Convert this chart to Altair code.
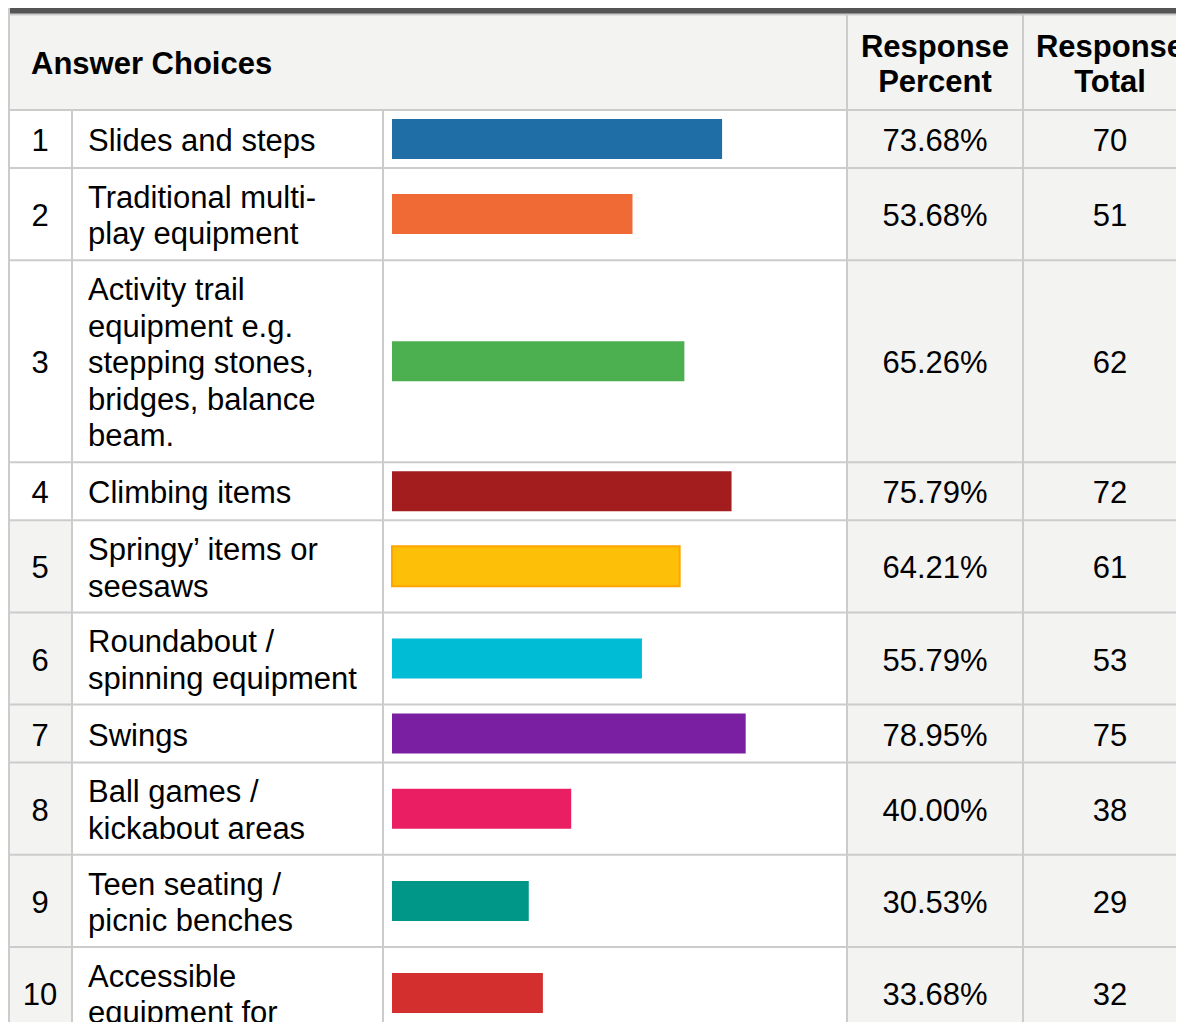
import altair as alt
import pandas as pd

# ---------------- data ----------------
labels = [
    "Slides and steps",
    "Traditional multi-\nplay equipment",
    "Activity trail\nequipment e.g.\nstepping stones,\nbridges, balance\nbeam.",
    "Climbing items",
    "Springy’ items or\nseesaws",
    "Roundabout /\nspinning equipment",
    "Swings",
    "Ball games /\nkickabout areas",
    "Teen seating /\npicnic benches",
    "Accessible\nequipment for",
]
percents = [73.68, 53.68, 65.26, 75.79, 64.21, 55.79, 78.95, 40.00, 30.53, 33.68]
totals = [70, 51, 62, 72, 61, 53, 75, 38, 29, 32]
bar_colors = ["#1f6fa6", "#f06a35", "#4caf50", "#a31d1f", "#fdbf07",
              "#00bcd4", "#7b1fa2", "#e91e63", "#009688", "#d32f2f"]
bar_strokes = ["#1f6fa6", "#f06a35", "#4caf50", "#a31d1f", "#ffa500",
               "#00bcd4", "#7b1fa2", "#e91e63", "#009688", "#d32f2f"]
header_choices = "Answer Choices"
header_percent = "Response\nPercent"
header_total = "Response\nTotal"

# ---------------- layout ----------------
W, H = 1168, 1014          # chart size (page margin 8px)
M = 8
FONT = "Liberation Sans"
FS = 31
LH = 36.6
HLH = 35
GRID = "#cccccc"
SHADE = "#f3f3f2"
DARK = "#555555"

HEADER_TOP, HEADER_BOTTOM = 15, 110
HEADER_MID = 63
X_LEFT, X_NUM, X_LABEL, X_PCT, X_TOT, X_RIGHT = 9, 72, 383, 847, 1023, 1200
BAR_LEFT, BAR_FULL = 392, 448
BAR_H = 40

n = len(labels)
lines = [len(s.split("\n")) for s in labels]
row_top, row_bot = [], []
y = HEADER_BOTTOM
for k in lines:
    h = max(58, 19 + LH * k)
    row_top.append(y)
    row_bot.append(y + h)
    y += h
row_mid = [(a + b) / 2 for a, b in zip(row_top, row_bot)]
idx = [str(i + 1) for i in range(n)]


def first_line_y(mid, text, lh):
    k = len(text.split("\n"))
    return mid - (k - 1) * lh / 2


sx = alt.Scale(domain=[M, M + W], range=[0, W], nice=False, zero=False)
sy = alt.Scale(domain=[M, M + H], range=[0, H], nice=False, zero=False)

# background rectangles
bg = [
    dict(x=X_LEFT + 1, x2=X_RIGHT, y=-10, y2=14, fill=DARK),
    dict(x=X_LEFT, x2=X_RIGHT, y=HEADER_TOP, y2=HEADER_BOTTOM, fill=SHADE),
    dict(x=X_PCT, x2=X_RIGHT, y=HEADER_BOTTOM, y2=row_bot[-1], fill=SHADE),
]
for i in range(4, n):
    bg.append(dict(x=X_LEFT, x2=X_NUM, y=row_top[i], y2=row_bot[i], fill=SHADE))
bg_df = pd.DataFrame(bg)

bg_layer = alt.Chart(bg_df).mark_rect().encode(
    x=alt.X("x:Q", scale=sx, axis=None),
    x2="x2:Q",
    y=alt.Y("y:Q", scale=sy, axis=None),
    y2="y2:Q",
    color=alt.Color("fill:N", scale=None),
)

# grid lines
segs = [dict(x=X_LEFT, x2=X_LEFT, y=-10, y2=row_bot[-1])]
segs.append(dict(x=X_LEFT, x2=X_RIGHT, y=HEADER_TOP - 0.5, y2=HEADER_TOP - 0.5))
for xv in (X_NUM, X_LABEL):
    segs.append(dict(x=xv, x2=xv, y=HEADER_BOTTOM, y2=row_bot[-1]))
for xv in (X_PCT, X_TOT):
    segs.append(dict(x=xv, x2=xv, y=HEADER_TOP, y2=row_bot[-1]))
for yv in [HEADER_BOTTOM] + row_bot:
    segs.append(dict(x=X_LEFT, x2=X_RIGHT, y=yv, y2=yv))
grid_df = pd.DataFrame(segs)

grid_layer = alt.Chart(grid_df).mark_rule(color=GRID, strokeWidth=2).encode(
    x=alt.X("x:Q", scale=sx, axis=None),
    x2="x2:Q",
    y=alt.Y("y:Q", scale=sy, axis=None),
    y2="y2:Q",
)

# bars
bar_df = pd.DataFrame({
    "idx": idx,
    "pct": percents,
    "zero": [0.0] * n,
    "yt": [m - BAR_H / 2 for m in row_mid],
    "yb": [m + BAR_H / 2 for m in row_mid],
    "sw": [0 if f == s else 2 for f, s in zip(bar_colors, bar_strokes)],
})
bar_layer = alt.Chart(bar_df).mark_rect().encode(
    x=alt.X("zero:Q", axis=None,
            scale=alt.Scale(domain=[0, 100], range=[BAR_LEFT - M, BAR_LEFT - M + BAR_FULL],
                            nice=False, zero=False)),
    x2="pct:Q",
    y=alt.Y("yt:Q", scale=sy, axis=None),
    y2="yb:Q",
    color=alt.Color("idx:N", scale=alt.Scale(domain=idx, range=bar_colors), legend=None),
    stroke=alt.Stroke("idx:N", scale=alt.Scale(domain=idx, range=bar_strokes), legend=None),
    strokeWidth=alt.StrokeWidth("sw:Q", scale=None),
)


# text
def text_layer(df, align, bold=False, lh=LH, dy=3):
    return alt.Chart(df).mark_text(
        align=align, baseline="middle", font=FONT, fontSize=FS,
        fontWeight="bold" if bold else "normal", lineBreak="\n",
        lineHeight=lh, color="#000000", dy=dy,
    ).encode(
        x=alt.X("x:Q", scale=sx, axis=None),
        y=alt.Y("y:Q", scale=sy, axis=None),
        text="t:N",
    )


hdr_left = pd.DataFrame({"x": [31], "y": [HEADER_MID], "t": [header_choices]})
hdr_center = pd.DataFrame({
    "x": [935, 1110],
    "y": [first_line_y(HEADER_MID, header_percent, HLH), first_line_y(HEADER_MID, header_total, HLH)],
    "t": [header_percent, header_total],
})
num_df = pd.DataFrame({"x": [40] * n, "y": row_mid, "t": idx})
lab_df = pd.DataFrame({
    "x": [88] * n,
    "y": [first_line_y(m, s, LH) for m, s in zip(row_mid, labels)],
    "t": labels,
})
pct_df = pd.DataFrame({"x": [935] * n, "y": row_mid, "t": [f"{p:.2f}%" for p in percents]})
tot_df = pd.DataFrame({"x": [1110] * n, "y": row_mid, "t": [str(t) for t in totals]})

chart = alt.layer(
    bg_layer,
    grid_layer,
    bar_layer,
    text_layer(hdr_left, "left", bold=True, dy=2),
    text_layer(hdr_center, "center", bold=True, lh=HLH, dy=2),
    text_layer(num_df, "center"),
    text_layer(lab_df, "left"),
    text_layer(pct_df, "center"),
    text_layer(tot_df, "center"),
).resolve_scale(x="independent").properties(
    width=W, height=H, padding=0, autosize=alt.AutoSizeParams(type="none"),
    background="white",
).configure_view(stroke=None)

chart.save("out.html", embed_options={"renderer": "svg", "actions": False})
